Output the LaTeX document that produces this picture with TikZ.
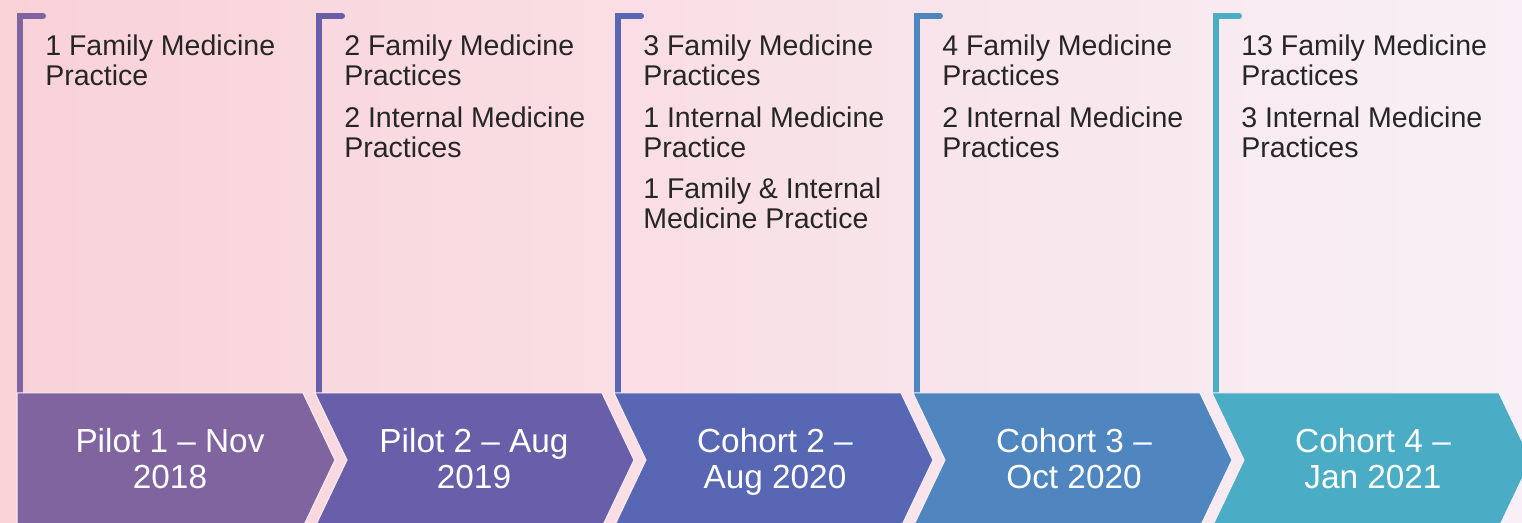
\documentclass[tikz,border=0pt]{standalone}
\usepackage{fontspec}
\setmainfont{Liberation Sans}

\definecolor{bgpink}{RGB}{249,210,216}
\definecolor{bgpale}{RGB}{248,240,246}
\definecolor{stepA}{HTML}{7F64A0}
\definecolor{stepB}{HTML}{685EA9}
\definecolor{stepC}{HTML}{5767B4}
\definecolor{stepD}{HTML}{4F86BF}
\definecolor{stepE}{HTML}{4AACC5}
\definecolor{txtgray}{HTML}{262626}

\begin{document}
\begin{tikzpicture}[x=0.75pt,y=-0.75pt,
  bar/.style={line width=4.5pt, line cap=round, line join=miter},
  chevron/.style={draw=bgpale, line width=0.75pt},
  info/.style={anchor=north west, inner sep=0pt, align=left, text=txtgray,
    font=\fontsize{21.4}{22.5}\selectfont},
  stagetext/.style={anchor=north, inner sep=0pt, align=center, text=white,
    font=\fontsize{25}{26.8}\selectfont}]
  \useasboundingbox (0,0) rectangle (1522,523);
  \shade [left color=bgpink, right color=bgpale] (0,0) rectangle (1522,523);

  % brackets over the columns
  \draw [bar, stepA] (43,16) -- (20,16) -- (20,393);
  \draw [bar, stepB] (342,16) -- (319,16) -- (319,393);
  \draw [bar, stepC] (641,16) -- (618,16) -- (618,393);
  \draw [bar, stepD] (940,16) -- (917,16) -- (917,393);
  \draw [bar, stepE] (1239,16) -- (1216,16) -- (1216,393);

  % what joined at each step
  \node [info] at (45,35) (p1) {1 Family Medicine\\Practice};
  \node [info] at (344,35) (p2) {2 Family Medicine\\Practices\\[8.5pt]2 Internal Medicine\\Practices};
  \node [info] at (643,35) (c2) {3 Family Medicine\\Practices\\[8.5pt]1 Internal Medicine\\Practice\\[8.5pt]1 Family \& Internal\\Medicine Practice};
  \node [info] at (942,35) (c3) {4 Family Medicine\\Practices\\[8.5pt]2 Internal Medicine\\Practices};
  \node [info] at (1241,35) (c4) {13 Family Medicine\\Practices\\[8.5pt]3 Internal Medicine\\Practices};

  % timeline chevrons
  \fill [chevron, fill=stepA] (17,393) -- (303,393) -- (335,460) -- (303,527) -- (17,527) -- cycle;
  \fill [chevron, fill=stepB] (315,393) -- (602,393) -- (634,460) -- (602,527) -- (315,527) -- (347,460) -- cycle;
  \fill [chevron, fill=stepC] (614,393) -- (901,393) -- (933,460) -- (901,527) -- (614,527) -- (646,460) -- cycle;
  \fill [chevron, fill=stepD] (913,393) -- (1200,393) -- (1232,460) -- (1200,527) -- (913,527) -- (945,460) -- cycle;
  \fill [chevron, fill=stepE] (1212,393) -- (1499,393) -- (1531,460) -- (1499,527) -- (1212,527) -- (1244,460) -- cycle;

  \node [stagetext] at (170,428) (s1) {Pilot 1 -- Nov\\2018};
  \node [stagetext] at (474,428) (s2) {Pilot 2 -- Aug\\2019};
  \node [stagetext] at (775,428) (s3) {Cohort 2 --\\Aug 2020};
  \node [stagetext] at (1074,428) (s4) {Cohort 3 --\\Oct 2020};
  \node [stagetext] at (1373,428) (s5) {Cohort 4 --\\Jan 2021};
\end{tikzpicture}
\end{document}
